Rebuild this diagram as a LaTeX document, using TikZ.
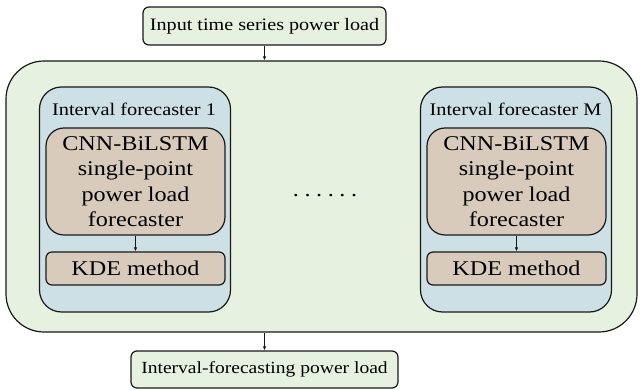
\documentclass[tikz,border=0pt]{standalone}
\usepackage{fontspec}
\setmainfont{Liberation Serif}[FakeStretch=1.15]
\usetikzlibrary{arrows.meta}
\definecolor{outerfill}{RGB}{231,241,224}
\definecolor{bluefill}{RGB}{204,224,229}
\definecolor{brownfill}{RGB}{216,203,188}
\definecolor{edgecol}{RGB}{25,25,25}
\newcommand{\titlefont}{\fontsize{17.5}{21}\selectfont}
\newcommand{\outfont}{\fontsize{17}{20}\selectfont}
\newcommand{\labelfont}{\fontsize{17.7}{21}\selectfont}
\newcommand{\stagefont}{\fontsize{21}{25.5}\selectfont}
\newcommand{\dotgap}{\hspace{5.6pt}}
\tikzset{
  roundbox/.style={draw=edgecol, line width=1.2pt, rounded corners=#1,
    inner sep=0pt, anchor=center, align=center},
  roundbox/.default=6pt,
  ioblock/.style={roundbox=6pt, fill=outerfill},
  unit/.style={roundbox=22pt, fill=bluefill, minimum width=191pt, minimum height=225pt},
  stagebox/.style={roundbox=#1, fill=brownfill, minimum width=179pt, font=\stagefont},
  stagebox/.default=18pt,
  flow/.style={draw=edgecol, line width=0.9pt, -{Latex[length=4pt,width=3.5pt]}}
}
\begin{document}
\begin{tikzpicture}[x=1pt,y=-1pt]
\useasboundingbox (0,0) rectangle (643,390);

% input and output blocks
\node[ioblock, font=\titlefont, minimum width=243pt, minimum height=38pt] (input) at (264.5,26) {Input time series power load};
\node[ioblock, font=\outfont, minimum width=267pt, minimum height=37pt] (output) at (264.5,369.5) {Interval-forecasting power load};

% ensemble container
\node[roundbox=38pt, fill=outerfill, minimum width=631pt, minimum height=271pt] (ensemble) at (321.5,196.5) {};

% first interval forecaster
\node[unit] (unit1) at (135,199.5) {};
\node[font=\labelfont] (label1) at (134,109.5) {Interval forecaster 1};
\node[stagebox, minimum height=107pt] (cnn1) at (135.5,181.5) {CNN-BiLSTM\\single-point\\power load\\forecaster};
\node[stagebox=6pt, minimum height=33pt] (kde1) at (135.5,268.5) {KDE method};

% last interval forecaster
\node[unit] (unitM) at (516,199.5) {};
\node[font=\labelfont] (labelM) at (515.5,109.5) {Interval forecaster M};
\node[stagebox, minimum height=107pt] (cnnM) at (516.5,181.5) {CNN-BiLSTM\\single-point\\power load\\forecaster};
\node[stagebox=6pt, minimum height=33pt] (kdeM) at (516.5,268.5) {KDE method};

% ellipsis between forecasters
\node[font=\stagefont] (dots) at (325,196) {.\dotgap.\dotgap.\dotgap.\dotgap.\dotgap.};

% connectors
\draw[flow] (input.south) -- (input.south |- ensemble.north);
\draw[flow] (cnn1.south) -- (kde1.north);
\draw[flow] (cnnM.south) -- (kdeM.north);
\draw[flow] (ensemble.south -| output.north) -- (output.north);
\end{tikzpicture}
\end{document}
